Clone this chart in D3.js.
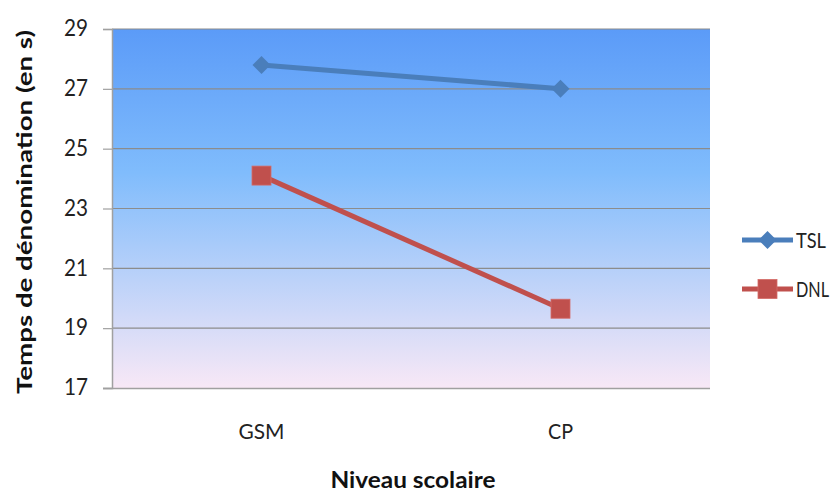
<!DOCTYPE html>
<html><head><meta charset="utf-8">
<script src="https://cdn.jsdelivr.net/npm/d3@7"></script>
<style>body{margin:0;background:#fff}svg{display:block}</style>
</head><body>
<script>
const categories = ["GSM", "CP"];
const seriesNames = ["TSL", "DNL"];
const tslValues = [27.8, 27.0];
const dnlValues = [24.1, 19.65];
const yTicks = [17, 19, 21, 23, 25, 27, 29];

const W = 840, H = 492;
const m = {left: 112, right: 130, top: 29, bottom: 104};
const svg = d3.select("body").append("svg").attr("width", W).attr("height", H);
const font = "Lato, 'Open Sans', 'Liberation Sans', sans-serif";

const x = d3.scaleBand().domain(categories).range([m.left, W - m.right]);
const y = d3.scaleLinear().domain([17, 29]).range([H - m.bottom, m.top]);

const defs = svg.append("defs");
const grad = defs.append("linearGradient").attr("id", "bg").attr("x1", 0).attr("y1", 0).attr("x2", 0).attr("y2", 1);
grad.append("stop").attr("offset", "0%").attr("stop-color", "#5b9bf8");
grad.append("stop").attr("offset", "40%").attr("stop-color", "#80bcfc");
grad.append("stop").attr("offset", "100%").attr("stop-color", "#f8e8f6");

svg.append("rect").attr("x", m.left).attr("y", m.top)
  .attr("width", W - m.right - m.left).attr("height", H - m.bottom - m.top)
  .attr("fill", "url(#bg)");

// gridlines
svg.append("g").selectAll("line").data(yTicks.filter(d => d > 17)).join("line")
  .attr("x1", m.left).attr("x2", W - m.right)
  .attr("y1", d => y(d)).attr("y2", d => y(d))
  .attr("stroke", "#8c8c8c").attr("stroke-width", 1.2);

function fit(sel, len) {
  sel.attr("textLength", len).attr("lengthAdjust", "spacingAndGlyphs");
}

// y axis
const yAxis = svg.append("g").attr("transform", `translate(${m.left},0)`)
  .call(d3.axisLeft(y).tickValues(yTicks).tickSize(9).tickPadding(15));
yAxis.select(".domain").attr("stroke", "#a0a0a0").attr("stroke-width", 1.5);
yAxis.selectAll(".tick line").attr("stroke", "#a0a0a0").attr("stroke-width", 1.2);
yAxis.selectAll(".tick text").attr("font-family", font).attr("font-size", 24)
  .attr("fill", "#222").attr("dy", "0.28em").call(fit, 24);

// x axis
const xAxis = svg.append("g").attr("transform", `translate(0,${H - m.bottom})`)
  .call(d3.axisBottom(x).tickSize(0).tickPadding(35));
xAxis.select(".domain").attr("stroke", "#a0a0a0").attr("stroke-width", 1.5).attr("d", `M${m.left - 9},0.5H${W - m.right}`);
xAxis.selectAll(".tick text").attr("font-family", font).attr("font-size", 22).attr("fill", "#222")
  .each(function(d) { d3.select(this).call(fit, d === "GSM" ? 46 : 25); });

// titles
svg.append("text").attr("transform", `translate(23,212) rotate(-90)`)
  .attr("text-anchor", "middle").attr("dominant-baseline", "central").attr("font-family", font).attr("font-weight", "bold")
  .attr("font-size", 21).attr("fill", "#111").text("Temps de dénomination  (en s)").call(fit, 364);
svg.append("text").attr("x", 413).attr("y", 488).attr("text-anchor", "middle")
  .attr("font-family", font).attr("font-weight", "bold").attr("font-size", 22)
  .attr("fill", "#111").text("Niveau scolaire").call(fit, 165);

const cx = d => x(d) + x.bandwidth() / 2;
const series = [
  {name: seriesNames[0], values: tslValues, color: "#4a7ebb", marker: "diamond", len: 30},
  {name: seriesNames[1], values: dnlValues, color: "#c0504d", marker: "square", len: 33}
];
const line = d3.line().x(d => cx(d.c)).y(d => y(d.v));

function marker(g, type, color, px, py) {
  if (type === "diamond") {
    g.append("path").attr("d", `M${px},${py - 9}L${px + 9},${py}L${px},${py + 9}L${px - 9},${py}Z`)
      .attr("fill", color);
  } else {
    g.append("rect").attr("x", px - 9.5).attr("y", py - 9.5).attr("width", 19).attr("height", 19)
      .attr("fill", color).attr("stroke", "#d46a66").attr("stroke-width", 0.8);
  }
}

series.forEach((s, i) => {
  const pts = s.values.map((v, j) => ({c: categories[j], v}));
  const g = svg.append("g");
  g.append("path").datum(pts).attr("d", line).attr("fill", "none")
    .attr("stroke", s.color).attr("stroke-width", 5);
  pts.forEach(p => marker(g, s.marker, s.color, cx(p.c), y(p.v)));

  // legend
  const ly = 240 + i * 49;
  const lg = svg.append("g");
  lg.append("line").attr("x1", 742).attr("x2", 793).attr("y1", ly).attr("y2", ly)
    .attr("stroke", s.color).attr("stroke-width", 5);
  marker(lg, s.marker, s.color, 767.5, ly);
  lg.append("text").attr("x", 796).attr("y", ly).attr("dy", "0.36em")
    .attr("font-family", font).attr("font-size", 22).attr("fill", "#222").text(s.name).call(fit, s.len);
});
</script>
</body></html>
